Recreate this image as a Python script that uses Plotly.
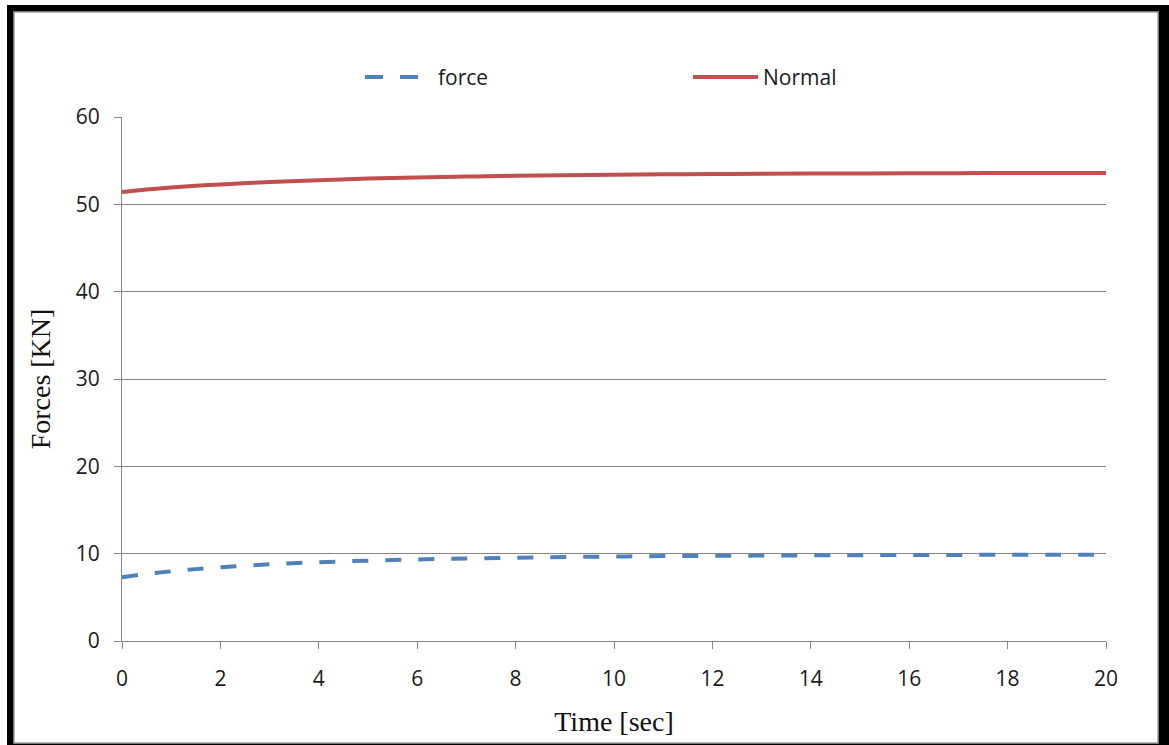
import plotly.graph_objects as go

time_s = [0, 0.5, 1, 1.5, 2, 3, 4, 5, 6, 7, 8, 9, 10,
          11, 12, 13, 14, 15, 16, 17, 18, 19, 20]
force_kn = [7.3, 7.68, 7.98, 8.23, 8.45, 8.78, 9.02, 9.2, 9.34, 9.45, 9.54, 9.61, 9.67,
            9.72, 9.75, 9.78, 9.81, 9.83, 9.85, 9.86, 9.87, 9.88, 9.89]
normal_kn = [51.42, 51.7, 51.93, 52.12, 52.28, 52.55, 52.77, 52.95, 53.08, 53.18, 53.27, 53.34, 53.4,
             53.44, 53.47, 53.5, 53.52, 53.54, 53.56, 53.57, 53.58, 53.59, 53.6]
x_ticks = list(range(0, 21, 2))
y_ticks = list(range(0, 61, 10))

BLUE = "#4F81BD"
RED = "#C0504D"
GRID = "#868686"

W, H = 1169, 745
L, R, T, B = 122, 1106, 117, 641


def px(x):
    return (x - L) / (R - L)


def py(y):
    return (B - y) / (B - T)


fig = go.Figure()
fig.add_trace(go.Scatter(x=time_s, y=force_kn, mode="lines", name="force",
                         line=dict(color=BLUE, width=4, dash="16px,17px", shape="spline", smoothing=1.0),
                         showlegend=False))
fig.add_trace(go.Scatter(x=time_s, y=normal_kn, mode="lines", name="Normal",
                         line=dict(color=RED, width=4, shape="spline", smoothing=1.0),
                         showlegend=False))

shapes = [
    # black frame
    dict(type="rect", xref="paper", yref="paper", x0=px(7), x1=px(1175), y0=py(5), y1=py(760),
         fillcolor="black", line=dict(width=0), layer="below"),
    dict(type="rect", xref="paper", yref="paper", x0=px(14), x1=px(1158), y0=py(12), y1=py(743),
         fillcolor="white", line=dict(color="#A0A0A0", width=1.5), layer="below"),
    # legend symbols
    dict(type="line", xref="paper", yref="paper", x0=px(365), x1=px(383), y0=py(77), y1=py(77),
         line=dict(color=BLUE, width=4)),
    dict(type="line", xref="paper", yref="paper", x0=px(400), x1=px(418), y0=py(77), y1=py(77),
         line=dict(color=BLUE, width=4)),
    dict(type="line", xref="paper", yref="paper", x0=px(693), x1=px(758), y0=py(77), y1=py(77),
         line=dict(color=RED, width=4)),
]

annotations = [
    dict(text="force", xref="paper", yref="paper", x=px(436), y=py(77), xanchor="left",
         yanchor="middle", showarrow=False, font=dict(family="Open Sans", size=21, color="#1a1a1a")),
    dict(text="Normal", xref="paper", yref="paper", x=px(761), y=py(77), xanchor="left",
         yanchor="middle", showarrow=False, font=dict(family="Open Sans", size=21, color="#1a1a1a")),
]

fig.update_layout(
    width=W, height=H,
    margin=dict(l=L, r=W - R, t=T, b=H - B, pad=0),
    paper_bgcolor="white", plot_bgcolor="white",
    shapes=shapes, annotations=annotations,
    showlegend=False,
    font=dict(family="Open Sans", size=21, color="#1a1a1a"),
)
fig.update_xaxes(
    range=[0, 20], tickvals=x_ticks, ticktext=[str(v) for v in x_ticks],
    showgrid=False, zeroline=False, showline=True, linecolor=GRID, linewidth=1,
    ticks="outside", ticklen=7, tickcolor=GRID, tickwidth=1, ticklabelstandoff=12,
    title=dict(text="Time [sec]", font=dict(family="Liberation Serif", size=28, color="#111"), standoff=20),
)
fig.update_yaxes(
    range=[0, 60], tickvals=y_ticks, ticktext=[str(v) for v in y_ticks],
    showgrid=True, gridcolor=GRID, gridwidth=1, zeroline=False,
    showline=True, linecolor=GRID, linewidth=1,
    ticks="outside", ticklen=7, tickcolor=GRID, tickwidth=1, ticklabelstandoff=10,
    title=dict(text="Forces [KN]", font=dict(family="Liberation Serif", size=28, color="#111"), standoff=16),
)

fig.write_html("out.html", config={"displayModeBar": False},
               post_script="document.body.style.margin='0';document.body.style.overflow='hidden';")
